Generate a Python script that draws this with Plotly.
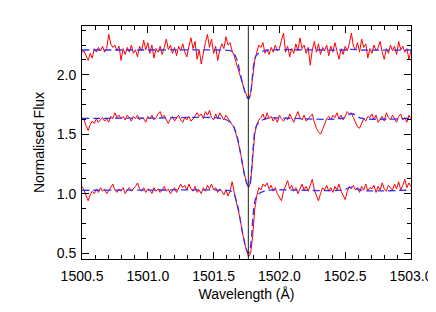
import numpy as np
import plotly.graph_objects as go

# Observed spectra (three epochs, offset vertically), sampled on a uniform wavelength grid
flux_top = [
    2.19, 2.20, 2.16, 2.12, 2.18, 2.14, 2.22, 2.19, 2.23, 2.20,
    2.24, 2.19, 2.22, 2.34, 2.26, 2.23, 2.25, 2.20, 2.24, 2.12,
    2.22, 2.17, 2.23, 2.19, 2.25, 2.18, 2.21, 2.15, 2.24, 2.20,
    2.29, 2.21, 2.27, 2.18, 2.25, 2.14, 2.22, 2.19, 2.24, 2.17,
    2.23, 2.30, 2.21, 2.25, 2.18, 2.23, 2.16, 2.24, 2.20, 2.26,
    2.19, 2.15, 2.24, 2.31, 2.22, 2.28, 2.13, 2.21, 2.09, 2.20,
    2.27, 2.34, 2.23, 2.30, 2.18, 2.24, 2.12, 2.21, 2.26, 2.22,
    2.32, 2.25, 2.27, 2.20, 2.16, 2.10, 2.05, 1.99, 1.93, 1.87,
    1.83, 1.79, 1.84, 1.98, 2.12, 2.19, 2.25, 2.23, 2.27, 2.18,
    2.21, 2.17, 2.23, 2.19, 2.25, 2.20, 2.22, 2.29, 2.35, 2.19,
    2.24, 2.15, 2.22, 2.18, 2.26, 2.20, 2.31, 2.22, 2.25, 2.18,
    2.23, 2.08, 2.21, 2.28, 2.19, 2.26, 2.17, 2.23, 2.20, 2.25,
    2.16, 2.24, 2.19, 2.27, 2.21, 2.13, 2.22, 2.17, 2.24, 2.20,
    2.26, 2.35, 2.24, 2.21, 2.27, 2.19, 2.30, 2.23, 2.26, 2.14,
    2.22, 2.18, 2.25, 2.20, 2.23, 2.28, 2.19, 2.13, 2.22, 2.18,
    2.25, 2.20, 2.24, 2.17, 2.28, 2.21, 2.24, 2.19, 2.22, 2.13, 2.20,
]
flux_mid = [
    1.64, 1.62, 1.57, 1.53, 1.58, 1.61, 1.59, 1.63, 1.60, 1.62,
    1.64, 1.61, 1.63, 1.60, 1.65, 1.63, 1.68, 1.64, 1.66, 1.63,
    1.65, 1.62, 1.66, 1.64, 1.61, 1.65, 1.63, 1.66, 1.62, 1.64,
    1.63, 1.60, 1.65, 1.63, 1.66, 1.62, 1.64, 1.67, 1.69, 1.64,
    1.66, 1.62, 1.59, 1.63, 1.65, 1.61, 1.64, 1.66, 1.62, 1.60,
    1.64, 1.62, 1.65, 1.61, 1.63, 1.66, 1.68, 1.65, 1.67, 1.63,
    1.69, 1.66, 1.70, 1.64, 1.62, 1.67, 1.63, 1.68, 1.65, 1.62,
    1.66, 1.63, 1.61, 1.58, 1.56, 1.50, 1.43, 1.35, 1.25, 1.16,
    1.10, 1.05, 1.09, 1.30, 1.50, 1.58, 1.62, 1.64, 1.67, 1.62,
    1.68, 1.63, 1.65, 1.61, 1.64, 1.60, 1.66, 1.63, 1.61, 1.64,
    1.62, 1.67, 1.63, 1.60, 1.65, 1.69, 1.64, 1.62, 1.66, 1.61,
    1.63, 1.65, 1.67, 1.60, 1.55, 1.52, 1.50, 1.54, 1.59, 1.63,
    1.65, 1.62, 1.66, 1.64, 1.68, 1.63, 1.66, 1.62, 1.65, 1.69,
    1.67, 1.68, 1.64, 1.60, 1.56, 1.55, 1.59, 1.63, 1.61, 1.65,
    1.64, 1.67, 1.62, 1.66, 1.60, 1.63, 1.65, 1.61, 1.68, 1.64,
    1.62, 1.66, 1.63, 1.60, 1.65, 1.67, 1.62, 1.64, 1.60, 1.66, 1.63,
]
flux_bot = [
    1.06, 1.03, 0.98, 0.94, 0.99, 1.02, 1.00, 1.04, 1.01, 1.05,
    1.02, 1.04, 1.00, 1.03, 1.06, 1.08, 1.03, 1.01, 1.04, 1.02,
    1.05, 1.00, 1.03, 1.05, 1.02, 1.04, 1.06, 1.09, 1.04, 1.02,
    1.05, 1.01, 1.04, 1.03, 1.00, 1.05, 1.02, 1.04, 1.01, 1.03,
    1.06, 1.02, 1.04, 1.00, 1.03, 1.05, 1.01, 1.04, 1.08, 1.05,
    1.07, 1.03, 1.08, 1.04, 1.02, 1.06, 1.01, 1.03, 1.00, 1.05,
    1.02, 1.07, 1.04, 1.08, 1.03, 1.05, 1.01, 1.04, 1.02, 0.99,
    1.03, 0.98, 1.02, 1.10, 1.00, 0.93, 0.86, 0.78, 0.67, 0.58,
    0.52, 0.47, 0.50, 0.64, 0.87, 0.98, 1.05, 1.03, 1.08, 1.06,
    1.09, 1.04, 1.07, 1.02, 1.05, 1.00, 0.97, 0.94, 1.02, 1.06,
    1.11, 1.04, 1.07, 1.02, 1.05, 1.00, 1.04, 1.08, 1.03, 1.06,
    1.02, 1.07, 1.12, 1.03, 0.98, 0.94, 1.00, 1.05, 1.03, 1.07,
    1.02, 1.05, 1.01, 1.06, 1.03, 1.08, 1.02, 0.99, 0.95, 1.02,
    1.06, 1.04, 1.07, 1.03, 1.05, 1.01, 1.06, 1.03, 1.08, 1.02,
    1.05, 1.04, 1.07, 1.01, 1.06, 1.03, 1.09, 1.04, 1.02, 1.07,
    1.05, 1.03, 1.08, 1.04, 1.10, 1.03, 1.07, 1.12, 1.05, 1.09, 1.06,
]
wave = np.linspace(1500.5, 1503.0, len(flux_top))

# Model fits (blue dashed)
model_wave = [1500.50, 1501.00, 1501.55, 1501.62, 1501.65, 1501.68, 1501.70, 1501.72,
              1501.74, 1501.755, 1501.765, 1501.775, 1501.79, 1501.80, 1501.82, 1501.85,
              1501.88, 1501.92, 1502.48, 1502.55, 1502.62, 1503.00]
model_top = [2.208, 2.208, 2.208, 2.204, 2.188, 2.118, 2.023, 1.929, 1.847, 1.810, 1.798,
             1.814, 1.921, 2.044, 2.155, 2.188, 2.200, 2.208, 2.208, 2.214, 2.208, 2.208]
model_mid = [1.632, 1.635, 1.633, 1.606, 1.566, 1.474, 1.365, 1.244, 1.129, 1.077, 1.060,
             1.083, 1.221, 1.376, 1.555, 1.606, 1.624, 1.635, 1.634, 1.672, 1.635, 1.635]
model_bot = [1.028, 1.030, 1.030, 1.025, 1.004, 0.913, 0.792, 0.670, 0.564, 0.516, 0.500,
             0.521, 0.659, 0.818, 0.961, 1.004, 1.019, 1.030, 1.030, 1.055, 1.030, 1.030]

line_centre = 1501.764

fig = go.Figure()
for flux in [flux_top, flux_mid, flux_bot]:
    fig.add_trace(go.Scatter(x=wave, y=flux, mode='lines',
                             line=dict(color='#ff0000', width=1)))
for model in [model_top, model_mid, model_bot]:
    fig.add_trace(go.Scatter(x=model_wave, y=model, mode='lines', line_shape='spline',
                             line=dict(color='#3030ff', width=1.3, dash='7px,4px')))

fig.add_vline(x=line_centre, line=dict(color='#222222', width=1))

axis_common = dict(showgrid=False, zeroline=False, showline=True, linecolor='black',
                   linewidth=1, mirror='ticks', ticks='inside', ticklen=7, tickcolor='black',
                   tickformat='.1f', tickfont=dict(size=14, color='black'), automargin=False)

fig.update_xaxes(range=[1500.5, 1503.0], dtick=0.5, tick0=1500.5, ticklabelstandoff=4,
                 minor=dict(ticks='inside', ticklen=4, dtick=0.1, tickcolor='black'),
                 title=dict(text='Wavelength (Å)', font=dict(size=14, color='black'), standoff=6),
                 **axis_common)
fig.update_yaxes(range=[0.45, 2.41], dtick=0.5, tick0=0.5, ticklabelstandoff=2,
                 minor=dict(ticks='inside', ticklen=4, dtick=0.125, tickcolor='black'),
                 title=dict(text='Normalised Flux', font=dict(size=14, color='black'), standoff=8),
                 **axis_common)

# page body adds an 8px offset, so the figure is a bit smaller than the window
fig.update_layout(width=428, height=296, showlegend=False,
                  margin=dict(l=74, r=25, t=18, b=45),
                  paper_bgcolor='white', plot_bgcolor='white',
                  font=dict(family='Liberation Sans, Arial, sans-serif'))

fig.write_html("out.html")
